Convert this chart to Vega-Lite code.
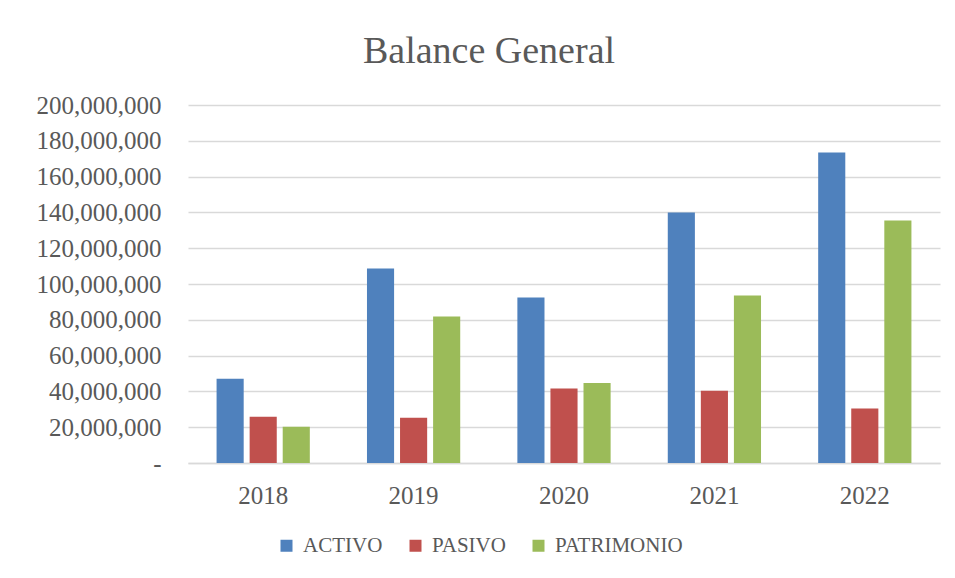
{
  "$schema": "https://vega.github.io/schema/vega-lite/v6.json",
  "width": 752,
  "height": 358,
  "autosize": {"type": "none"},
  "padding": {"left": 188, "top": 105, "right": 15, "bottom": 115},
  "background": "white",
  "title": {
    "text": "Balance General",
    "font": "Liberation Serif",
    "fontSize": 38,
    "fontWeight": "normal",
    "color": "#595959",
    "anchor": "middle",
    "frame": "group",
    "dx": -75,
    "dy": 40,
    "baseline": "alphabetic",
    "offset": 32
  },
  "data": {
    "values": [
      {"year": "2018", "serie": "ACTIVO", "valor": 47100000},
      {"year": "2018", "serie": "PASIVO", "valor": 25900000},
      {"year": "2018", "serie": "PATRIMONIO", "valor": 20300000},
      {"year": "2019", "serie": "ACTIVO", "valor": 108700000},
      {"year": "2019", "serie": "PASIVO", "valor": 25300000},
      {"year": "2019", "serie": "PATRIMONIO", "valor": 81800000},
      {"year": "2020", "serie": "ACTIVO", "valor": 92400000},
      {"year": "2020", "serie": "PASIVO", "valor": 41600000},
      {"year": "2020", "serie": "PATRIMONIO", "valor": 44700000},
      {"year": "2021", "serie": "ACTIVO", "valor": 140000000},
      {"year": "2021", "serie": "PASIVO", "valor": 40400000},
      {"year": "2021", "serie": "PATRIMONIO", "valor": 93600000},
      {"year": "2022", "serie": "ACTIVO", "valor": 173500000},
      {"year": "2022", "serie": "PASIVO", "valor": 30400000},
      {"year": "2022", "serie": "PATRIMONIO", "valor": 135500000}
    ]
  },
  "mark": {"type": "bar"},
  "encoding": {
    "x": {
      "field": "year",
      "type": "nominal",
      "title": null,
      "scale": {"paddingInner": 0.38, "paddingOuter": 0.19},
      "axis": {
        "labelAngle": 0,
        "labelFont": "Liberation Serif",
        "labelFontSize": 25,
        "labelColor": "#595959",
        "labelBaseline": "top",
        "labelPadding": 20,
        "ticks": false,
        "domainColor": "#d9d9d9",
        "domainWidth": 1.5,
        "grid": false
      }
    },
    "xOffset": {
      "field": "serie",
      "type": "nominal",
      "scale": {"paddingInner": 0.18, "paddingOuter": 0}
    },
    "y": {
      "field": "valor",
      "type": "quantitative",
      "title": null,
      "scale": {"domain": [0, 200000000], "nice": false},
      "axis": {
        "values": [0, 20000000, 40000000, 60000000, 80000000, 100000000, 120000000, 140000000, 160000000, 180000000, 200000000],
        "labelExpr": "datum.value == 0 ? '-\u00a0\u00a0' : format(datum.value, ',')",
        "labelFont": "Liberation Serif",
        "labelFontSize": 25,
        "labelColor": "#595959",
        "labelPadding": 27,
        "ticks": false,
        "domain": false,
        "gridColor": "#d9d9d9",
        "gridWidth": 1.5
      }
    },
    "color": {
      "field": "serie",
      "type": "nominal",
      "title": null,
      "scale": {
        "domain": ["ACTIVO", "PASIVO", "PATRIMONIO"],
        "range": ["#4F81BD", "#C0504D", "#9BBB59"]
      },
      "legend": {
        "orient": "none",
        "legendX": 88,
        "legendY": 430,
        "direction": "horizontal",
        "symbolType": "square",
        "symbolSize": 144,
        "symbolStrokeWidth": 0,
        "labelFont": "Liberation Serif",
        "labelFontSize": 21,
        "labelColor": "#595959",
        "labelOffset": 6,
        "columnPadding": 22
      }
    }
  },
  "config": {
    "view": {"stroke": null}
  }
}
